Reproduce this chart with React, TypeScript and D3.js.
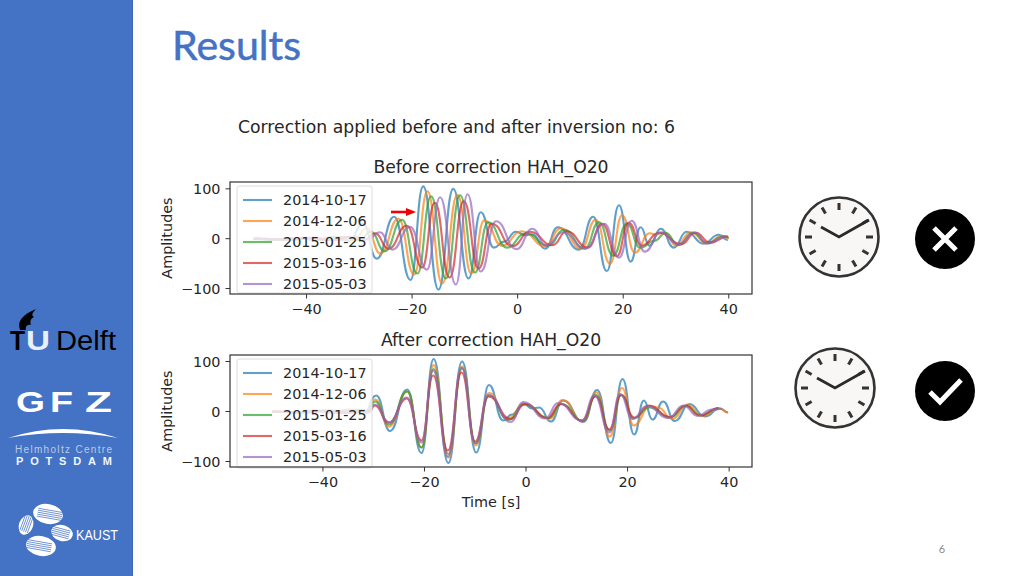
import React from "react";
import * as d3 from "d3";

type P = [number, number];
const dates = ["2014-10-17", "2014-12-06", "2015-01-25", "2015-03-16", "2015-05-03"];
const colors = ["#1f77b4", "#ff7f0e", "#2ca02c", "#d62728", "#9467bd"];
const xTicks = [-40, -20, 0, 20, 40];
const yTicks = [-100, 0, 100];

// [time s, amplitude] at each turning point of each trace
const beforeBlue: P[] = [[-50,0],[-46,-2],[-42,2],[-38,-3],[-35,4],[-32,-5],[-29.3,30],[-26.7,-40],[-23.4,44],[-20.3,-83],[-17.9,105],[-15,-102],[-12.2,100],[-9.3,-80],[-7,53],[-4.5,-18],[-2.6,-6],[-0.3,14],[1.4,7],[2.8,9],[5.2,-20],[7.6,23],[11.6,-22],[14.3,44],[16.9,-65],[19.2,67],[21.4,-46],[23.3,23],[25,-14],[27.1,20],[29.6,-18],[32,14],[35.2,-10],[38.1,8],[39.8,-3]];
const beforeOrange: P[] = [[-50,0],[-45,-2],[-41,2],[-37,-3],[-34,4],[-31,-4],[-28.6,22],[-26,-30],[-22.6,40],[-19.6,-72],[-17.1,95],[-14.3,-90],[-11.4,88],[-8.8,-70],[-6.3,37],[-3,-14],[0.8,15],[5.2,-15],[8.2,21],[12,-20],[14.8,38],[17.5,-50],[19.8,47],[22.2,-28],[25,11],[26.2,8],[27.8,13],[30,-14],[32.8,13],[35.8,-9],[38.8,6],[40,1]];
const beforeGreen: P[] = [[-50,0],[-44,-2],[-40,2],[-36,-3],[-33,4],[-30,-3],[-27.8,14],[-25.2,-25],[-21.9,38],[-19,-70],[-16.4,85],[-13.6,-80],[-10.9,87],[-8.1,-68],[-5.6,33],[-2,-18],[1.5,11],[5.8,-14],[8.8,18],[12.7,-20],[15.4,33],[18.1,-34],[20.7,30],[23.2,-18],[26,-4],[28,12],[30.5,-13],[33.2,12],[36,-9],[39,5],[40,2]];
const beforeRed: P[] = [[-50,0],[-43,-2],[-39,2],[-35,-3],[-32,4],[-29,-2],[-27,11],[-24.5,-20],[-21,26],[-18.1,-58],[-15.7,72],[-12.9,-78],[-10.2,75],[-7.4,-60],[-4.9,30],[-1,-15],[2.3,14],[6.6,-13],[9.3,15],[13.3,-18],[16,30],[18.8,-35],[21,32],[23.5,-14],[26.8,12],[31,-11],[33.7,12],[36.5,-8],[39.9,5]];
const beforePurple: P[] = [[-50,0],[-43,-2],[-38,2],[-34,-3],[-31,4],[-28.5,-2],[-26.1,13],[-23.7,-22],[-20.4,24],[-17.2,-62],[-14.7,83],[-11.7,-92],[-9.5,89],[-7,-66],[-4.1,35],[-0.2,-21],[2.8,20],[5.4,-14],[8.6,13],[12.8,-20],[16.4,30],[19.2,-38],[21.6,36],[24.1,-26],[27.1,13],[30.4,-11],[33.6,13],[35.8,-10],[39.6,5]];

const afterBlue: P[] = [[-50,0],[-46,-2],[-42,2],[-38,-3],[-35,4],[-32,-4],[-29.5,32],[-26.8,-39],[-23.4,44],[-20.6,-83],[-18.2,105],[-15.3,-103],[-12.6,100],[-9.8,-82],[-7.3,53],[-4.5,-18],[-2.8,-6],[-0.5,16],[1.2,6],[2.6,8],[4.9,-20],[7.3,22],[11.3,-21],[14,43],[16.7,-63],[19,65],[21.3,-46],[23.2,22],[24.9,-16],[27,20],[29.3,-19],[32.2,15],[35.2,-10],[38.2,6],[39.8,-2]];
const afterOrange: P[] = [[-50,0],[-45,-2],[-41,2],[-37,-3],[-34,4],[-31.5,-3],[-29.7,24],[-27,-30],[-23.4,40],[-20.6,-72],[-18.2,93],[-15.3,-92],[-12.6,90],[-9.9,-68],[-7.3,37],[-3.6,-14],[-0.3,15],[4.7,-14],[7.2,23],[11.2,-20],[13.9,38],[16.5,-50],[18.9,47],[21.2,-28],[24.5,11],[26,8],[28.8,-15],[31.8,13],[34.8,-9],[37.9,7],[39.8,-2]];
const afterGreen: P[] = [[-50,0],[-44,-2],[-40,2],[-36,-3],[-33,4],[-31.5,-2],[-29.7,20],[-27,-26],[-23.4,40],[-20.6,-72],[-18.2,85],[-15.3,-85],[-12.6,86],[-9.9,-64],[-7.3,32],[-3.4,-17],[-0.4,14],[4.4,-13],[7,15],[11.2,-19],[13.8,33],[16.5,-38],[18.8,33],[21.2,-14],[24.3,8],[28.4,-12],[31.5,11],[34.4,-8],[38,7]];
const afterRed: P[] = [[-50,0],[-43,-2],[-39,2],[-35,-3],[-32,3],[-31,-2],[-29.8,12],[-27,-22],[-23.5,26],[-20.6,-58],[-18.3,72],[-15.4,-78],[-12.7,78],[-10,-60],[-7.4,30],[-3,-15],[-0.2,15],[4.2,-13],[6.8,15],[11,-18],[13.7,30],[16.4,-36],[18.7,33],[21.3,-12],[24.2,12],[28.3,-11],[31.4,12],[34.2,-8],[37.8,6]];
const afterPurple: P[] = [[-50,0],[-43,-2],[-38,2],[-34,-3],[-32,3],[-31,-2],[-29.8,14],[-27,-22],[-23.5,28],[-20.6,-62],[-18.3,82],[-15.4,-90],[-12.7,88],[-10,-63],[-7.4,33],[-3,-21],[-0.5,19],[3.8,-14],[6.3,17],[11,-18],[13.5,32],[16.4,-42],[18.5,35],[21,-15],[23.8,11],[28,-13],[31,12],[33.8,-9],[36.5,4],[38.5,5]];

const beforeSeries = [beforeBlue, beforeOrange, beforeGreen, beforeRed, beforePurple];
const afterSeries = [afterBlue, afterOrange, afterGreen, afterRed, afterPurple];

const FONT = "'DejaVu Sans', sans-serif";
const INK = "#262626";
const fmt = (v: number) => (v < 0 ? "\u2212" + Math.abs(v) : String(v));

function Panel({ series, xd, yd, top, bottom, title, titleY, legendY, legendTop, legendBottom, yLabelY }: any) {
  const left = 230, right = 752;
  const x = d3.scaleLinear().domain(xd).range([left, right]);
  const y = d3.scaleLinear().domain(yd).range([bottom, top]);
  const line = d3.line<P>().x((d) => x(d[0])).y((d) => y(d[1])).curve(d3.curveBumpX);
  return (
    <g fontFamily={FONT} fill={INK}>
      <g filter="url(#soft)">
        {series.map((s: P[], i: number) => (
          <path key={i} d={line(s) ?? ""} fill="none" stroke={colors[i]} strokeWidth={2.1} strokeOpacity={0.7} />
        ))}
      </g>
      <rect x={237} y={legendTop} width={135} height={legendBottom - legendTop} rx={2.5} fill="#fff" fillOpacity={0.8} stroke="#dcdcdc" strokeWidth={1} />
      {dates.map((d, i) => (
        <g key={d}>
          <line x1={243} x2={272} y1={legendY[i]} y2={legendY[i]} stroke={colors[i]} strokeWidth={2.1} strokeOpacity={0.7} />
          <text x={283} y={legendY[i] + 5} fontSize={14.4}>{d}</text>
        </g>
      ))}
      <rect x={left} y={top} width={right - left} height={bottom - top} fill="none" stroke="#333" strokeWidth={1.2} />
      {xTicks.map((t) => (
        <g key={t}>
          <line x1={x(t)} x2={x(t)} y1={bottom} y2={bottom + 4.5} stroke="#333" />
          <text x={x(t)} y={bottom + 20} fontSize={14.4} textAnchor="middle">{fmt(t)}</text>
        </g>
      ))}
      {yTicks.map((t) => (
        <g key={t}>
          <line x1={left - 4.5} x2={left} y1={y(t)} y2={y(t)} stroke="#333" />
          <text x={left - 9.5} y={y(t) + 5} fontSize={14.4} textAnchor="end">{fmt(t)}</text>
        </g>
      ))}
      <text x={491} y={titleY} fontSize={17.2} textAnchor="middle">{title}</text>
      <text transform={`translate(172,${yLabelY}) rotate(-90)`} fontSize={14.4} textAnchor="middle">Amplitudes</text>
    </g>
  );
}

function Clock({ cx, cy }: { cx: number; cy: number }) {
  const marks = d3.range(12).map((i) => (i * Math.PI) / 6);
  return (
    <g>
      <circle cx={cx} cy={cy} r={39.5} fill="#f8f7f5" stroke="#333" strokeWidth={2.6} />
      {marks.map((a, i) => (
        <line key={i} x1={cx + 27 * Math.sin(a)} y1={cy - 27 * Math.cos(a)} x2={cx + 34 * Math.sin(a)} y2={cy - 34 * Math.cos(a)} stroke="#333" strokeWidth={3} />
      ))}
      <polyline points={`${cx - 18},${cy - 10} ${cx},${cy} ${cx + 30},${cy - 17}`} fill="none" stroke="#2a2a2a" strokeWidth={2.8} />
    </g>
  );
}

function Swirl({ cx, cy, rx, ry, rot }: any) {
  return (
    <g transform={`translate(${cx},${cy}) rotate(${rot})`}>
      <ellipse rx={rx} ry={ry} fill="#fff" />
      {d3.range(-2, 3).map((i) => (
        <line key={i} x1={-rx * 0.7} x2={rx * 0.95} y1={i * 2} y2={i * 2} stroke="#4472c4" strokeWidth={0.7} />
      ))}
    </g>
  );
}

function Logos() {
  const sans = "'Liberation Sans', sans-serif";
  return (
    <g fontFamily={sans}>
      <path d="M20 330 C17 321 22 315 36 309 C31 314 32 316 34 317 C30 319 30 322 31 325 C27 324 25 327 26 330 Z" fill="#000" />
      <text x={10} y={350} fontSize={28} fontWeight={700} fill="#000" textLength={15} lengthAdjust="spacingAndGlyphs">T</text>
      <text x={26} y={350} fontSize={28} fontWeight={700} fill="#e8f1fb" textLength={24} lengthAdjust="spacingAndGlyphs">U</text>
      <text x={56} y={350} fontSize={27} fill="#000" textLength={60} lengthAdjust="spacingAndGlyphs">Delft</text>
      <text x={16} y={412} fontSize={30} fontWeight={700} fill="#fff" textLength={29} lengthAdjust="spacingAndGlyphs">G</text>
      <text x={50} y={412} fontSize={30} fontWeight={700} fill="#fff" textLength={23} lengthAdjust="spacingAndGlyphs">F</text>
      <text x={85} y={412} fontSize={30} fontWeight={700} fill="#fff" textLength={27} lengthAdjust="spacingAndGlyphs">Z</text>
      <path d="M8 438 Q63 420 118 438 Q63 428 8 438 Z" fill="#fff" />
      <text x={15} y={453} fontSize={10} fill="#b9cbe8" textLength={97} lengthAdjust="spacing">Helmholtz Centre</text>
      <text x={16} y={465} fontSize={11} fontWeight={700} fill="#f3f6fc" textLength={96} lengthAdjust="spacing">POTSDAM</text>
      <Swirl cx={48} cy={514} rx={15} ry={10} rot={10} />
      <Swirl cx={26} cy={525} rx={10} ry={7} rot={-70} />
      <Swirl cx={62} cy={533} rx={11} ry={8} rot={195} />
      <Swirl cx={41} cy={546} rx={15} ry={10} rot={190} />
      <text x={76} y={540} fontSize={15} fill="#fff" textLength={42} lengthAdjust="spacingAndGlyphs">KAUST</text>
    </g>
  );
}

export default function App() {
  return (
    <svg width={1024} height={576} style={{ position: "fixed", left: 0, top: 0, background: "#fff" }}>
      <defs>
        <filter id="soft" x="-5%" y="-5%" width="110%" height="110%">
          <feGaussianBlur stdDeviation={0.35} />
        </filter>
      </defs>
      <rect x={0} y={0} width={133} height={576} fill="#4472c4" />
      <line x1={132.5} x2={132.5} y1={0} y2={576} stroke="#3d66b0" />
      <Logos />
      <text x={172} y={60} fontFamily="Lato, sans-serif" fontSize={40} fill="#4472c4" stroke="#4472c4" strokeWidth={0.5} textLength={129} lengthAdjust="spacingAndGlyphs">Results</text>
      <text x={238} y={133} fontFamily={FONT} fontSize={17.2} fill={INK} textLength={437} lengthAdjust="spacingAndGlyphs">Correction applied before and after inversion no: 6</text>

      <Panel series={beforeSeries} xd={[-54.5, 44.4]} yd={[-111, 113.7]} top={182} bottom={294}
        title="Before correction HAH_O20" titleY={173} legendTop={186} legendBottom={293}
        legendY={[200, 221, 242, 263, 284]} yLabelY={238} />
      <Panel series={afterSeries} xd={[-58.3, 44.5]} yd={[-111, 113]} top={355} bottom={467}
        title="After correction HAH_O20" titleY={346} legendTop={359} legendBottom={468}
        legendY={[373, 394, 415, 436, 457]} yLabelY={411} />
      <text x={491} y={507} fontFamily={FONT} fontSize={14.4} fill={INK} textAnchor="middle">Time [s]</text>

      <line x1={391} x2={408} y1={212} y2={212} stroke="#f00000" strokeWidth={2.6} />
      <path d="M406 208 L416 212 L406 216 Z" fill="#f00000" />

      <Clock cx={839} cy={237} />
      <Clock cx={835} cy={388} />
      <circle cx={945} cy={239} r={30} fill="#000" />
      <path d="M934 228 L956 250 M956 228 L934 250" stroke="#fff" strokeWidth={5} fill="none" />
      <circle cx={945} cy={391} r={30} fill="#000" />
      <path d="M930 392 L940 402 L961 380" stroke="#fff" strokeWidth={5} fill="none" />

      <text x={942} y={553} fontFamily="Lato, sans-serif" fontSize={11} fill="#8a8a8a" textAnchor="middle">6</text>
    </svg>
  );
}
